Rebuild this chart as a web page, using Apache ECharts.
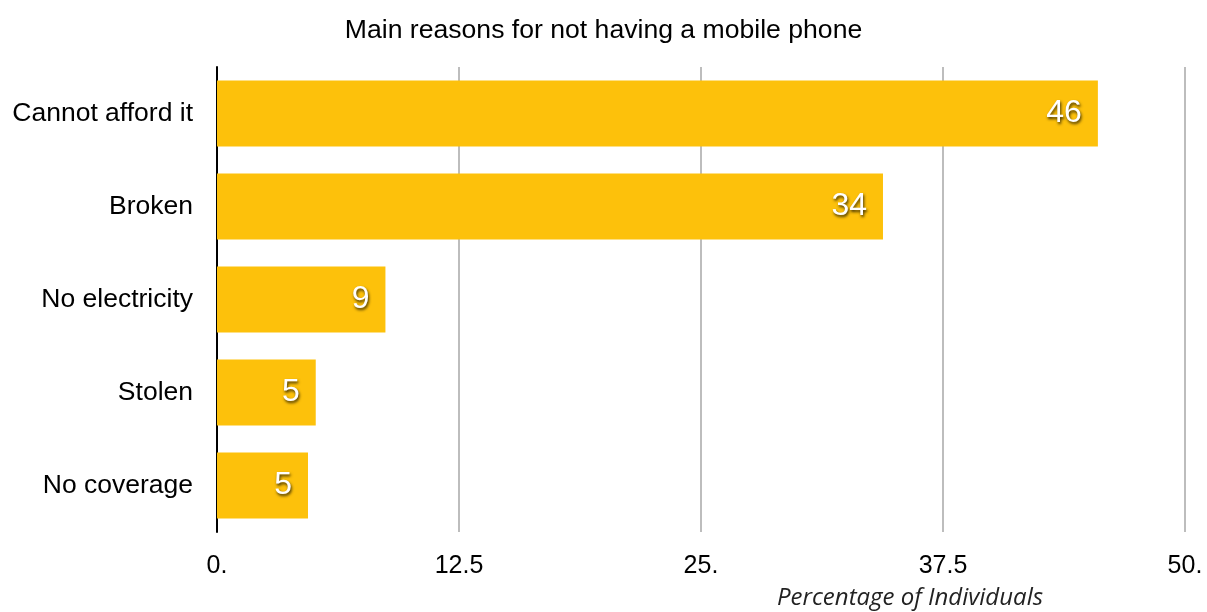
<!DOCTYPE html>
<html>
<head>
<meta charset="utf-8">
<script src="https://cdn.jsdelivr.net/npm/echarts@6/dist/echarts.min.js"></script>
<style>
  html, body { margin: 0; padding: 0; background: #fff; }
  #chart { width: 1207px; height: 612px; }
</style>
</head>
<body>
<div id="chart"></div>
<script>
// reasons, top to bottom in the picture
var reasons = ['Cannot afford it', 'Broken', 'No electricity', 'Stolen', 'No coverage']
var percentages = [45.5, 34.4, 8.7, 5.1, 4.7]
var tickLabels = { 0: '0.', 12.5: '12.5', 25: '25.', 37.5: '37.5', 50: '50.' }

var chart = echarts.init(document.getElementById('chart'))
chart.setOption({
  animation: false,
  textStyle: { fontFamily: 'Liberation Sans, Arial, sans-serif' },
  title: {
    text: 'Main reasons for not having a mobile phone',
    left: 'center',
    top: 12,
    textStyle: { fontSize: 26.6, fontWeight: 'normal', color: '#000', fontFamily: 'Liberation Sans' }
  },
  grid: { left: 217, right: 22, top: 67, bottom: 80, containLabel: false, outerBoundsMode: 'none' },
  xAxis: {
    type: 'value',
    min: 0,
    max: 50,
    interval: 12.5,
    axisLine: { show: false },
    axisTick: { show: false },
    splitLine: { lineStyle: { color: '#bdbdbd', width: 2 } },
    axisLabel: {
      fontSize: 25,
      color: '#000',
      margin: 22,
      formatter: function (v) { return tickLabels[v] !== undefined ? tickLabels[v] : v }
    },
    name: 'Percentage of Individuals',
    nameLocation: 'middle',
    nameGap: 54,
    nameTextStyle: {
      fontSize: 24,
      fontStyle: 'italic',
      color: '#222',
      fontFamily: 'Open Sans',
      padding: [0, 0, 0, 418]
    }
  },
  yAxis: {
    type: 'category',
    data: reasons,
    inverse: true,
    axisLine: { show: true, lineStyle: { color: '#000', width: 2 } },
    axisTick: { show: false },
    axisLabel: { fontSize: 26.5, color: '#000', margin: 24 }
  },
  series: [
    {
      type: 'bar',
      data: percentages,
      barCategoryGap: '29.3%',
      itemStyle: { color: '#fdc10b' },
      label: {
        show: true,
        position: 'insideRight',
        distance: 16,
        fontSize: 32,
        color: '#fff',
        textShadowColor: 'rgba(0,0,0,0.75)',
        textShadowBlur: 3,
        textShadowOffsetX: 1,
        textShadowOffsetY: 2,
        formatter: function (p) { return Math.round(p.value) }
      }
    }
  ]
})
</script>
</body>
</html>
